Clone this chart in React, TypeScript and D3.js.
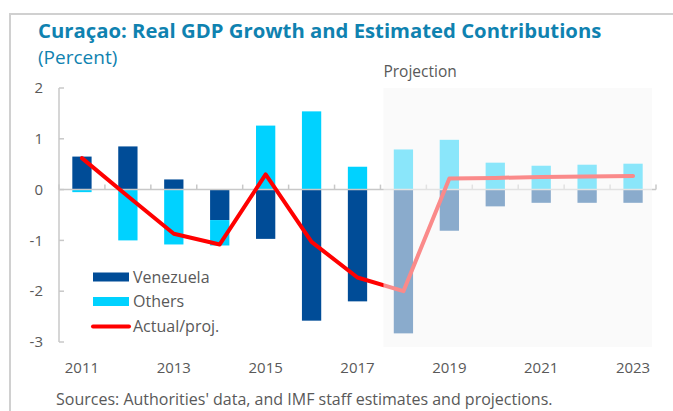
import React from "react";
import * as d3 from "d3";
import { useRef, useEffect } from "react";

const years = ["2011", "2012", "2013", "2014", "2015", "2016", "2017", "2018", "2019", "2020", "2021", "2022", "2023"];
const venezuela = [0.65, 0.85, 0.2, -0.6, -0.97, -2.58, -2.2, -2.83, -0.81, -0.33, -0.26, -0.26, -0.26];
const others = [-0.05, -1.0, -1.08, -0.5, 1.26, 1.54, 0.45, 0.79, 0.98, 0.53, 0.47, 0.49, 0.51];
const growth = [0.62, -0.13, -0.87, -1.08, 0.3, -1.03, -1.73, -2.0, 0.22, 0.23, 0.25, 0.26, 0.27];
const yTicks = [2, 1, 0, -1, -2, -3];
const xLabels = ["2011", "2013", "2015", "2017", "2019", "2021", "2023"];
const projectionStart = "2018";

export default function App() {
  const chartRef = useRef(null);

  useEffect(() => {
    const width = 673;
    const height = 411;
    const font = "'Open Sans', 'Noto Sans', sans-serif";
    const grey = "#595959";
    const axisColor = "#c8c8c8";
    const colors = { Venezuela: "#004c97", Others: "#00d2ff" };

    d3.select(chartRef.current).selectAll("*").remove();

    const svg = d3
      .select(chartRef.current)
      .append("svg")
      .attr("width", width)
      .attr("height", height)
      .style("position", "absolute")
      .style("left", 0)
      .style("top", 0)
      .style("font-family", font);

    // frame
    svg.append("line").attr("x1", 9).attr("x2", width).attr("y1", 14).attr("y2", 14)
      .attr("stroke", "#d0d0d0").attr("stroke-width", 2);
    svg.append("line").attr("x1", 10).attr("x2", 10).attr("y1", 13).attr("y2", height)
      .attr("stroke", "#d0d0d0").attr("stroke-width", 2);

    svg.append("text").attr("x", 38).attr("y", 38)
      .attr("fill", "#0f82b0").attr("font-size", 20.3).attr("font-weight", 700)
      .text("Curaçao: Real GDP Growth and Estimated Contributions");
    svg.append("text").attr("x", 38).attr("y", 64)
      .attr("fill", "#0f82b0").attr("font-size", 19)
      .text("(Percent)");

    const x = d3.scaleBand().domain(years).range([59, 656]).paddingInner(0.58).paddingOuter(0.29);
    const y = d3.scaleLinear().domain([-3, 2]).range([342, 88]);
    const step = x.step();

    const rows = years.map((yr, i) => ({ year: yr, Venezuela: venezuela[i], Others: others[i] }));
    const series = d3.stack()
      .keys(["Venezuela", "Others"])
      .offset(d3.stackOffsetDiverging)(rows);

    const g = svg.append("g");

    // axes
    g.append("line").attr("x1", 59).attr("x2", 59).attr("y1", y(2)).attr("y2", y(-3))
      .attr("stroke", axisColor).attr("stroke-width", 1.5);
    yTicks.forEach((t) => {
      g.append("line").attr("x1", 59).attr("x2", 64).attr("y1", y(t)).attr("y2", y(t))
        .attr("stroke", axisColor).attr("stroke-width", 1.5);
      svg.append("text").attr("x", 43).attr("y", y(t)).attr("dy", "0.35em")
        .attr("text-anchor", "end").attr("fill", grey).attr("font-size", 15)
        .text(t);
    });

    series.forEach((s) => {
      g.selectAll(null)
        .data(s)
        .enter()
        .append("rect")
        .attr("x", (d) => x(d.data.year))
        .attr("width", x.bandwidth())
        .attr("y", (d) => y(Math.max(d[0], d[1])))
        .attr("height", (d) => Math.abs(y(d[0]) - y(d[1])))
        .attr("fill", colors[s.key]);
    });

    g.append("line").attr("x1", 59).attr("x2", 656).attr("y1", y(0)).attr("y2", y(0))
      .attr("stroke", axisColor).attr("stroke-width", 1.5);
    d3.range(years.length + 1).forEach((i) => {
      const tx = 59 + i * step;
      g.append("line").attr("x1", tx).attr("x2", tx).attr("y1", y(0)).attr("y2", y(0) - 5)
        .attr("stroke", axisColor).attr("stroke-width", 1.5);
    });

    const line = d3.line()
      .x((d, i) => x(years[i]) + x.bandwidth() / 2)
      .y((d) => y(d));
    g.append("path").datum(growth).attr("d", line)
      .attr("fill", "none").attr("stroke", "#ff0000").attr("stroke-width", 4)
      .attr("stroke-linejoin", "round").attr("stroke-linecap", "round");

    // projection overlay
    const px = x(projectionStart) - step * 0.29 + 3;
    svg.append("rect").attr("x", px).attr("y", 88).attr("width", 652 - px).attr("height", 259)
      .attr("fill", "#f6f6f6").attr("opacity", 0.56);
    svg.append("text").attr("x", px).attr("y", 77).attr("fill", grey).attr("font-size", 15.5)
      .text("Projection");

    xLabels.forEach((lab) => {
      svg.append("text").attr("x", x(lab) + x.bandwidth() / 2).attr("y", 373)
        .attr("text-anchor", "middle").attr("fill", grey).attr("font-size", 15)
        .text(lab);
    });

    // legend
    const legend = svg.append("g").attr("transform", "translate(93,277)");
    ["Venezuela", "Others"].forEach((k, i) => {
      legend.append("rect").attr("x", 0).attr("y", i * 24.5 - 4.5).attr("width", 36).attr("height", 9)
        .attr("fill", colors[k]);
      legend.append("text").attr("x", 40).attr("y", i * 24.5).attr("dy", "0.35em")
        .attr("fill", grey).attr("font-size", 16).text(k);
    });
    legend.append("line").attr("x1", 0).attr("x2", 36).attr("y1", 49.5).attr("y2", 49.5)
      .attr("stroke", "#ff0000").attr("stroke-width", 4).attr("stroke-linecap", "round");
    legend.append("text").attr("x", 40).attr("y", 49.5).attr("dy", "0.35em")
      .attr("fill", grey).attr("font-size", 16).text("Actual/proj.");

    svg.append("text").attr("x", 56).attr("y", 405).attr("fill", grey).attr("font-size", 16)
      .text("Sources: Authorities' data, and IMF staff estimates and projections.");
  }, []);

  return <div ref={chartRef} />;
}
